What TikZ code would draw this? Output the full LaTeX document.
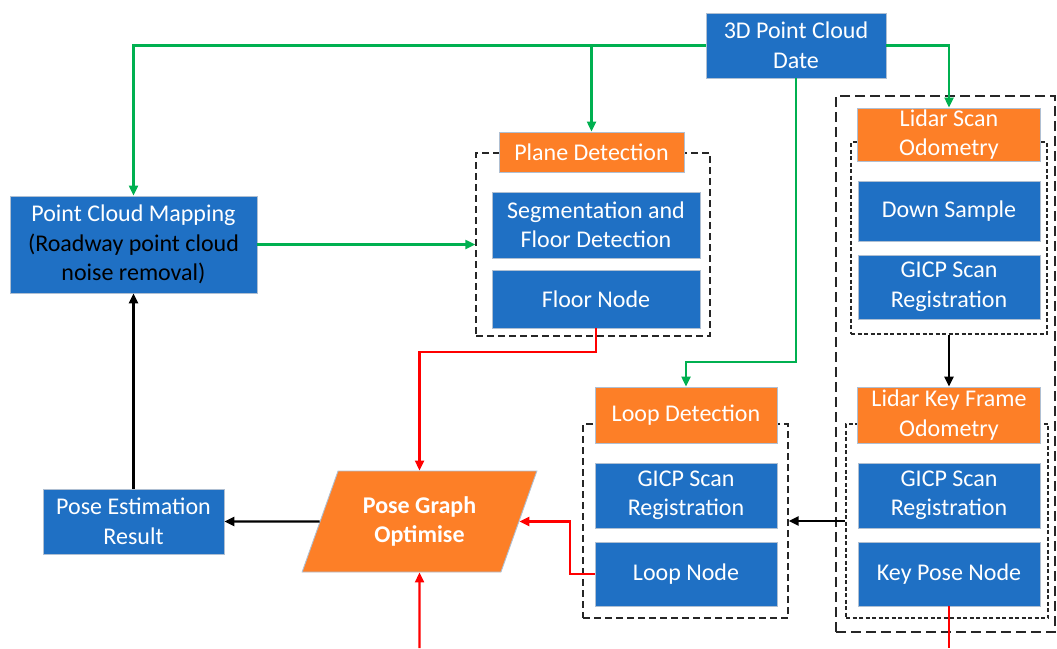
\documentclass[tikz,border=0pt]{standalone}
\usepackage{fontspec}
\setmainfont{Carlito}
\usetikzlibrary{positioning, arrows.meta, shapes.geometric}

\definecolor{boxblue}{HTML}{1F70C4}
\definecolor{boxorange}{HTML}{FD7F27}
\definecolor{flowgreen}{HTML}{00B050}
\definecolor{flowred}{HTML}{FF0000}
\definecolor{rimgray}{HTML}{AFBFD2}

\tikzset{
  bluebox/.style={rectangle, fill=boxblue, draw=rimgray, line width=0.9pt, text=white, align=center, inner sep=0pt,
    font=\fontsize{24}{29.5}\selectfont},
  orangebox/.style={bluebox, fill=boxorange},
  groupbox/.style={rectangle, draw=black!85, line width=1.4pt, dash pattern=on 7pt off 4pt, inner sep=0pt},
  finebox/.style={groupbox, line width=1.2pt, dash pattern=on 4pt off 2.5pt},
  widebox/.style={groupbox, dash pattern=on 10pt off 5pt},
  greenflow/.style={draw=flowgreen, line width=2.2pt, -{Triangle[length=10pt,width=9pt]}},
  redflow/.style={draw=flowred, line width=2.2pt, -{Triangle[length=10pt,width=9pt]}},
  blackflow/.style={draw=black, line width=2.4pt, -{Triangle[length=10pt,width=9pt]}}
}

\begin{document}
\begin{tikzpicture}[x=1pt, y=-1pt]
    \useasboundingbox (0,0) rectangle (1057,648);

    % dashed groups
    \node[groupbox, minimum width=234pt, minimum height=183pt] (planebox) at (593,244.5) {};
    \node[widebox, minimum width=219pt, minimum height=536pt] (odobox) at (945.5,364) {};
    \node[finebox, minimum width=196pt, minimum height=192pt] (scanbox) at (949,238) {};
    \node[finebox, minimum width=202pt, minimum height=194pt] (keybox) at (947,521) {};
    \node[groupbox, minimum width=205pt, minimum height=194pt] (loopbox) at (685.5,521) {};

    \node[bluebox, minimum width=180pt, minimum height=65pt] (data) at (796,45.5) {3D Point Cloud\\Date};
    \node[bluebox, minimum width=247pt, minimum height=97pt] (map) at (133.5,244.5)
        {Point Cloud Mapping\\\textcolor{black}{(Roadway point cloud}\\\textcolor{black}{noise removal)}};
    \node[bluebox, minimum width=181pt, minimum height=65pt] (pose) at (133.5,521.5) {Pose Estimation\\Result};

    \node[orangebox, minimum width=185pt, minimum height=40pt] (plane) at (591.5,152) {Plane Detection};
    \node[bluebox, minimum width=208pt, minimum height=66pt] (seg) at (596,225) {Segmentation and\\Floor Detection};
    \node[bluebox, minimum width=208pt, minimum height=58pt] (floor) at (596,299) {Floor Node};

    \node[orangebox, minimum width=183pt, minimum height=53pt] (scan) at (949,134.5) {Lidar Scan\\Odometry};
    \node[bluebox, minimum width=182pt, minimum height=60pt] (down) at (949,211) {Down Sample};
    \node[bluebox, minimum width=182pt, minimum height=64pt] (gicpa) at (949,287) {GICP Scan\\Registration};

    \node[orangebox, minimum width=183pt, minimum height=56pt] (key) at (949,415) {Lidar Key Frame\\Odometry};
    \node[bluebox, minimum width=182pt, minimum height=65pt] (gicpb) at (949,495.5) {GICP Scan\\Registration};
    \node[bluebox, minimum width=182pt, minimum height=64pt] (keypose) at (949,574) {Key Pose Node};

    \node[orangebox, minimum width=182pt, minimum height=56pt] (loop) at (686,415) {Loop Detection};
    \node[bluebox, minimum width=182pt, minimum height=65pt] (gicpc) at (686,495.5) {GICP Scan\\Registration};
    \node[bluebox, minimum width=182pt, minimum height=64pt] (loopnode) at (686,574) {Loop Node};

    \node[orangebox, trapezium, trapezium left angle=63.5, trapezium right angle=116.5, trapezium stretches=true,
        minimum width=235pt, minimum height=101pt, font=\fontsize{24}{29.5}\selectfont\bfseries] (pgo) at (419.5,521.5)
        {Pose Graph\\Optimise};

    \coordinate (loopturn) at (796,362);
    \coordinate (floorturn) at (596,352);
    \coordinate (loopback) at (570,574);
    \coordinate (pgoin) at (419.5,648);
    \coordinate (keyout) at (949,648);

    \draw[greenflow] (data.west) -| (map.north);
    \draw[greenflow] (data.west -| plane.north) -- (plane.north);
    \draw[greenflow] (data.east) -| (scan.north);
    \draw[greenflow] (data.south) -- (loopturn) -| (loop.north);
    \draw[greenflow] (map.east) -- (map.east -| planebox.west);

    \draw[redflow] (floor.south) -- (floorturn) -| (pgo.north);
    \draw[redflow] (loopnode.west) -- (loopback) |- (pgo);
    \draw[redflow] (pgoin) -- (pgo.south);
    \draw[draw=flowred, line width=2.2pt] (keypose.south) -- (keyout);

    \draw[blackflow] (scanbox.south) -- (key.north);
    \draw[blackflow] (keybox.west) -- (loopbox.east);
    \draw[blackflow] (pgo) -- (pose);
    \draw[blackflow] (pose) -- (map);
\end{tikzpicture}
\end{document}
